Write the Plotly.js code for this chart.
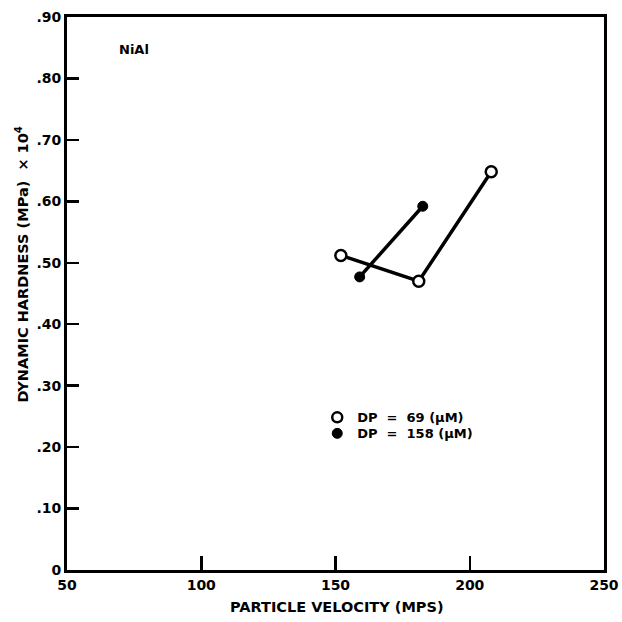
<!DOCTYPE html>
<html>
<head>
<meta charset="utf-8">
<script src="https://cdn.plot.ly/plotly-3.0.1.min.js"></script>
<style>html,body{margin:0;padding:0;background:#fff;}#chart{width:622px;height:622px;}</style>
</head>
<body>
<div id="chart"></div>
<script>
// Series: DP = 69 µM (open circles)
const velocity69 = [152, 181, 208];
const hardness69 = [0.512, 0.470, 0.648];
// Series: DP = 158 µM (filled circles)
const velocity158 = [159, 182.5];
const hardness158 = [0.477, 0.592];

const xTickVals = [50, 100, 150, 200, 250];
const xTickText = ['50', '100', '150', '200', '250'];
const yTickVals = [0, 0.1, 0.2, 0.3, 0.4, 0.5, 0.6, 0.7, 0.8, 0.9];
const yTickText = ['0', '.10', '.20', '.30', '.40', '.50', '.60', '.70', '.80', '.90'];

const legendNames = ['DP  =  69 (\u03bcM)', 'DP  =  158 (\u03bcM)'];

const F = 'DejaVu Sans, Liberation Sans, Arial, sans-serif';

const traces = [
  {
    x: velocity69, y: hardness69, mode: 'lines+markers', showlegend: false,
    line: {color: '#000', width: 3.5},
    marker: {symbol: 'circle', size: 11, color: '#fff', line: {color: '#000', width: 2.5}}
  },
  {
    x: velocity158, y: hardness158, mode: 'lines+markers', showlegend: false,
    line: {color: '#000', width: 3.5},
    marker: {symbol: 'circle', size: 10, color: '#000', line: {color: '#000', width: 1}}
  },
  {
    x: [null], y: [null], mode: 'markers', name: legendNames[0], legend: 'legend',
    marker: {symbol: 'circle', size: 10, color: '#fff', line: {color: '#000', width: 2.5}}
  },
  {
    x: [null], y: [null], mode: 'markers', name: legendNames[1], legend: 'legend2',
    marker: {symbol: 'circle', size: 10, color: '#000', line: {color: '#000', width: 1}}
  }
];

const legendCommon = {
  xanchor: 'left', yanchor: 'middle',
  bgcolor: 'rgba(0,0,0,0)', borderwidth: 0,
  font: {family: F, size: 13, color: '#000', weight: 'bold'},
  itemwidth: 30
};

const layout = {
  width: 622, height: 622,
  margin: {l: 67, r: 18, t: 17, b: 52},
  paper_bgcolor: '#fff', plot_bgcolor: '#fff',
  font: {family: F, color: '#000', size: 13, weight: 'bold'},
  showlegend: true,
  legend: Object.assign({x: 0.466, y: 0.276}, legendCommon),
  legend2: Object.assign({x: 0.466, y: 0.247}, legendCommon),
  xaxis: {
    range: [50, 250], tickmode: 'array', tickvals: xTickVals, ticktext: xTickText,
    ticks: 'inside', ticklen: 14, tickwidth: 2.5, tickcolor: '#000',
    showline: true, linewidth: 3, linecolor: '#000', mirror: true,
    showgrid: false, zeroline: false,
    tickfont: {family: F, size: 14, color: '#000', weight: 'bold'}
  },
  yaxis: {
    range: [0, 0.9], tickmode: 'array', tickvals: yTickVals, ticktext: yTickText,
    ticks: 'inside', ticklen: 12, tickwidth: 2.5, tickcolor: '#000',
    showline: true, linewidth: 3, linecolor: '#000', mirror: true,
    showgrid: false, zeroline: false, ticklabelstandoff: 0,
    tickfont: {family: F, size: 14, color: '#000', weight: 'bold'}
  },
  annotations: [
    {text: 'NiAl', xref: 'paper', yref: 'paper', x: 0.125, y: 0.942,
     xanchor: 'center', yanchor: 'middle', showarrow: false,
     font: {family: F, size: 13, color: '#000', weight: 'bold'}},
    {text: 'PARTICLE VELOCITY (MPS)', xref: 'paper', yref: 'paper', x: 0.502, y: -0.067,
     xanchor: 'center', yanchor: 'middle', showarrow: false,
     font: {family: F, size: 14.5, color: '#000', weight: 'bold'}},
    {text: 'DYNAMIC HARDNESS (MPa)  \u00d7 10<sup>4</sup>', xref: 'paper', yref: 'paper',
     x: -0.083, y: 0.553, xanchor: 'center', yanchor: 'middle', textangle: -90, showarrow: false,
     font: {family: F, size: 14.5, color: '#000', weight: 'bold'}}
  ]
};

Plotly.newPlot('chart', traces, layout, {displayModeBar: false, staticPlot: true});
</script>
</body>
</html>
